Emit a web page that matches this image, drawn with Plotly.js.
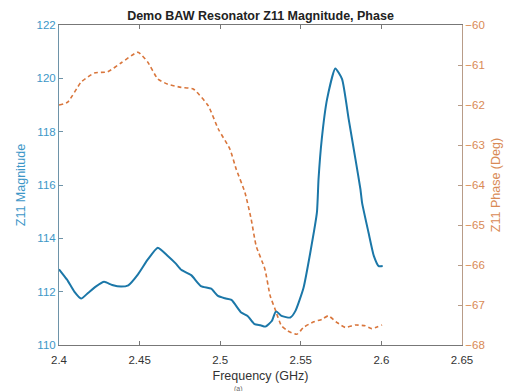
<!DOCTYPE html>
<html>
<head>
<meta charset="utf-8">
<script src="https://cdn.plot.ly/plotly-3.0.1.min.js"></script>
<style>html,body{margin:0;padding:0;background:#fff;}#chart{width:508px;height:391px;}</style>
</head>
<body>
<div id="chart"></div>
<script>
// Z11 magnitude (left axis)
const magFreq = [2.400, 2.405, 2.4095, 2.4137, 2.418, 2.423, 2.428, 2.433, 2.4385, 2.443, 2.449, 2.455, 2.4613, 2.4675, 2.4725, 2.4758, 2.482, 2.488, 2.4944, 2.4986, 2.503, 2.507, 2.513, 2.517, 2.5213, 2.525, 2.528, 2.532, 2.5346, 2.538, 2.5435, 2.5466, 2.5517, 2.5559, 2.560, 2.561, 2.563, 2.5663, 2.5714, 2.5756, 2.5797, 2.5839, 2.587, 2.588, 2.592, 2.5953, 2.5983, 2.6008];
const magVals = [112.84, 112.45, 112.0, 111.74, 111.95, 112.2, 112.37, 112.25, 112.19, 112.24, 112.65, 113.2, 113.65, 113.34, 113.05, 112.82, 112.62, 112.21, 112.11, 111.84, 111.75, 111.69, 111.22, 111.09, 110.78, 110.74, 110.69, 110.9, 111.27, 111.09, 111.03, 111.27, 112.15, 113.47, 114.97, 116.22, 117.72, 119.22, 120.37, 119.97, 118.47, 116.97, 115.84, 115.34, 114.22, 113.34, 112.96, 112.96];

// Z11 phase (right axis)
const phFreq = [2.400, 2.4054, 2.4137, 2.422, 2.4302, 2.4385, 2.449, 2.4551, 2.4613, 2.4675, 2.4758, 2.4833, 2.4926, 2.4988, 2.506, 2.5099, 2.5153, 2.5192, 2.5223, 2.5277, 2.531, 2.534, 2.538, 2.542, 2.5476, 2.5517, 2.558, 2.563, 2.567, 2.5725, 2.5776, 2.5839, 2.590, 2.594, 2.6004];
const phVals = [-62.0, -61.93, -61.43, -61.2, -61.17, -60.95, -60.68, -60.93, -61.35, -61.48, -61.56, -61.6, -62.02, -62.6, -63.1, -63.6, -64.18, -64.85, -65.52, -66.1, -66.77, -67.1, -67.52, -67.65, -67.73, -67.56, -67.42, -67.36, -67.27, -67.44, -67.56, -67.5, -67.52, -67.59, -67.5];

const xTicks = [2.4, 2.45, 2.5, 2.55, 2.6, 2.65];
const xTickText = ['2.4', '2.45', '2.5', '2.55', '2.6', '2.65'];
const leftTicks = [110, 112, 114, 116, 118, 120, 122];
const rightTicks = [-68, -67, -66, -65, -64, -63, -62, -61, -60];

const blue = '#1b77a8';
const blueText = '#3d97c8';
const orange = '#d9763c';
const orangeText = '#d98a55';

const traces = [
  {x: phFreq, y: phVals, yaxis: 'y2', type: 'scatter', mode: 'lines',
   line: {color: orange, width: 1.6, dash: '4px,3px', shape: 'spline', smoothing: 0.5}, hoverinfo: 'skip'},
  {x: magFreq, y: magVals, type: 'scatter', mode: 'lines',
   line: {color: blue, width: 2, shape: 'spline', smoothing: 0.5}, hoverinfo: 'skip'}
];

const fam = 'Liberation Sans, Arial, sans-serif';
const layout = {
  width: 508, height: 391,
  margin: {l: 59, r: 46, t: 25, b: 46, pad: 0},
  paper_bgcolor: '#fff', plot_bgcolor: '#fff',
  showlegend: false,
  font: {family: fam, size: 11.5, color: '#444'},
  title: {text: '<b>Demo BAW Resonator Z11 Magnitude, Phase</b>', x: 0.5, xanchor: 'center',
          xref: 'paper', y: 1, yref: 'paper', yanchor: 'bottom', pad: {b: 5},
          font: {family: fam, size: 12.5, color: '#222'}},
  xaxis: {range: [2.4, 2.65], tickvals: xTicks, ticktext: xTickText, ticks: 'inside', ticklen: 4,
          tickcolor: '#777', showgrid: false, zeroline: false, showline: true, linecolor: '#777',
          linewidth: 1, mirror: 'ticks', ticklabelstandoff: 4, tickfont: {size: 11.5, color: '#333'},
          title: {text: 'Frequency (GHz)', standoff: 6, font: {size: 12.5, color: '#333'}}},
  yaxis: {range: [110, 122], tickvals: leftTicks, ticks: 'inside', ticklen: 4, tickcolor: '#6e93a8',
          showgrid: false, zeroline: false, showline: true, linecolor: '#6e93a8', linewidth: 1,
          tickfont: {size: 11.5, color: blueText},
          title: {text: 'Z11 Magnitude', standoff: 8, font: {size: 12.5, color: blueText}}},
  yaxis2: {range: [-68, -60], tickvals: rightTicks, overlaying: 'y', side: 'right', anchor: 'x',
           ticks: 'inside', ticklen: 4, tickcolor: '#b89c88', showgrid: false, zeroline: false,
           showline: true, linecolor: '#b89c88', linewidth: 1,
           tickfont: {size: 11.5, color: orangeText},
           title: {text: 'Z11 Phase (Deg)', standoff: 6, font: {size: 12.5, color: orangeText}}},
  annotations: [
    {text: '(a)', xref: 'paper', yref: 'paper', x: 0.445, y: 0, yshift: -38, xanchor: 'center', yanchor: 'top',
     showarrow: false, font: {size: 7, color: '#666'}}
  ]
};

Plotly.newPlot('chart', traces, layout, {displayModeBar: false, staticPlot: true});
</script>
</body>
</html>
